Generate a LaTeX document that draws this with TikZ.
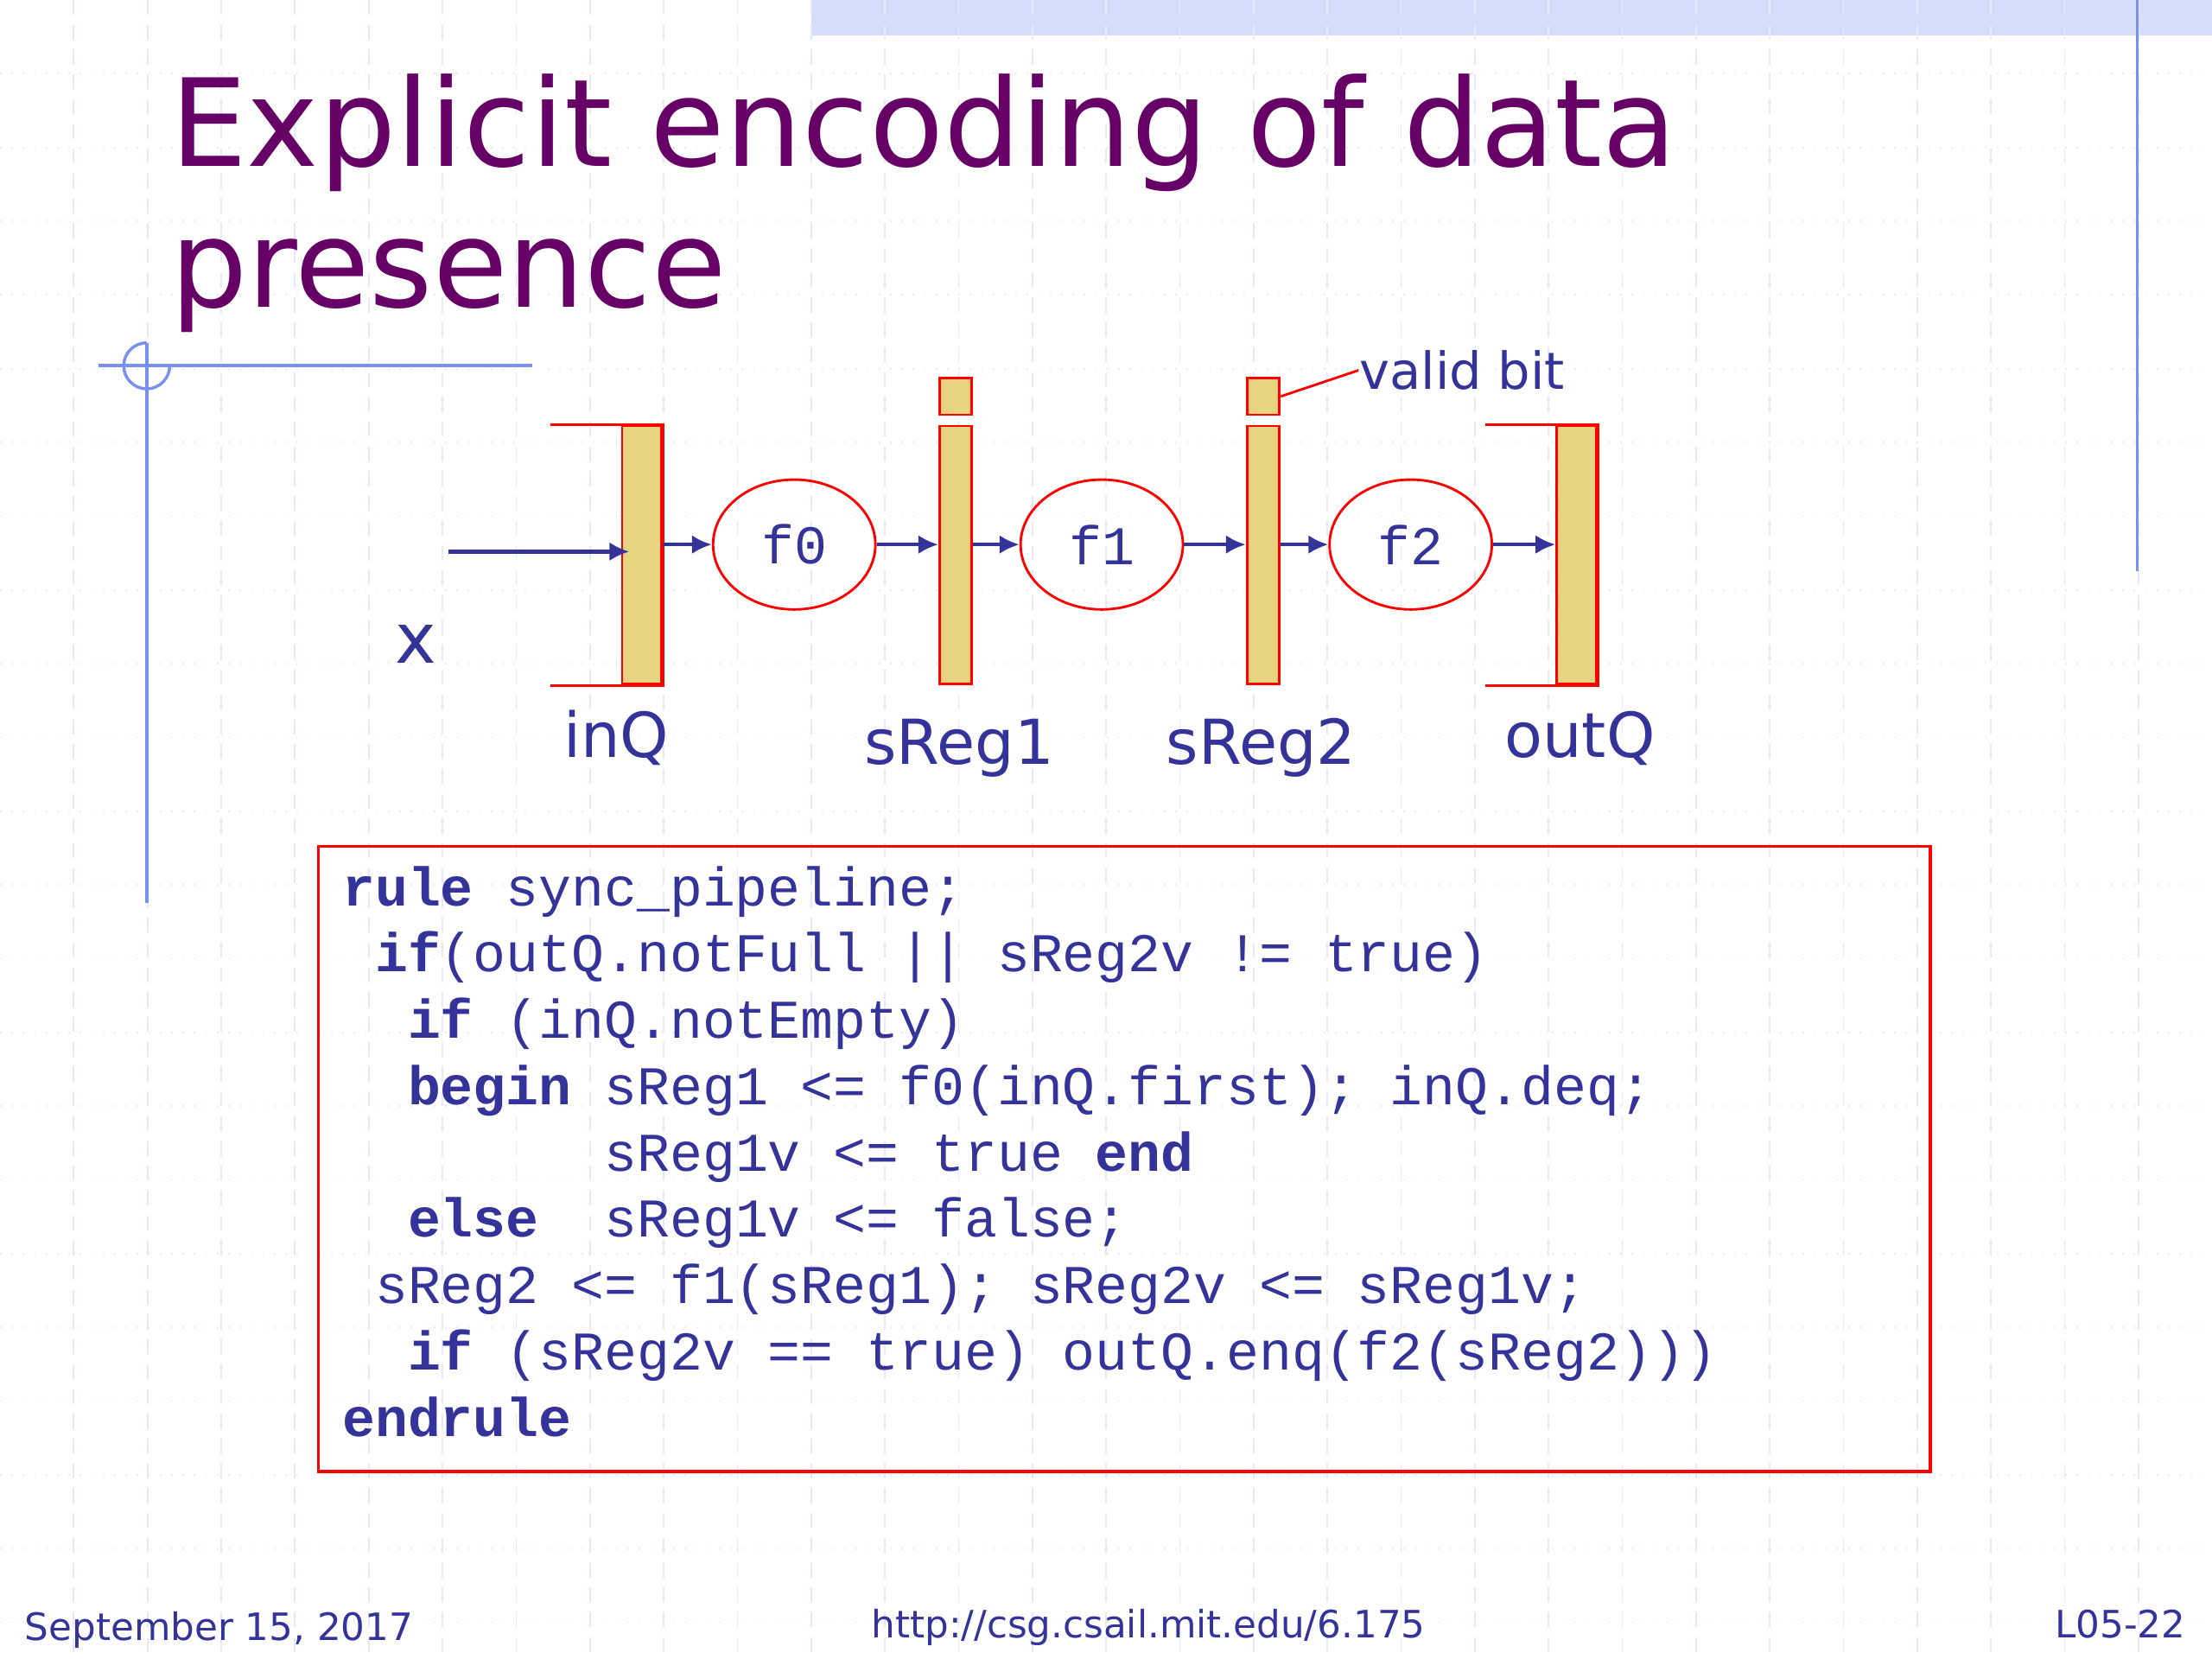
\documentclass[tikz,border=0pt]{standalone}
\usepackage{fontspec}
\setmainfont{DejaVu Sans}
\newfontfamily\codefont{Liberation Mono}
\usetikzlibrary{positioning,arrows.meta,shapes.geometric}

\definecolor{titlepurple}{RGB}{102,0,102}
\definecolor{navy}{RGB}{51,51,153}
\definecolor{regyellow}{RGB}{232,212,128}
\definecolor{decoblue}{RGB}{120,145,240}
\definecolor{gridblue}{RGB}{228,232,250}
\definecolor{gridgray}{RGB}{232,232,238}
\definecolor{bandblue}{RGB}{212,221,250}

\begin{document}
\begin{tikzpicture}[x=0.01cm, y=-0.01cm, >={Latex[length=4pt,width=3.8pt]},
reg/.style={draw=red, fill=regyellow, line width=0.5pt, inner sep=0pt, minimum width=0.23cm, minimum height=1.83cm},
vbit/.style={reg, minimum height=0.26cm},
queue/.style={reg, minimum width=0.28cm},
fnode/.style={ellipse, draw=red, line width=0.5pt, minimum width=1.15cm, minimum height=0.92cm, inner sep=0pt, text=navy, font=\codefont\fontsize{11}{13}\selectfont},
arr/.style={->, draw=navy, line width=0.75pt},
bracket/.style={draw=red, line width=0.6pt},
lbl/.style={text=navy, font=\fontsize{12.5}{15}\selectfont, anchor=base, inner sep=0pt},
titletext/.style={text=titlepurple, font=\fontsize{24.5}{28.5}\selectfont, anchor=base west, inner sep=0pt},
codeline/.style={text=navy, font=\codefont\fontsize{11}{13}\selectfont, anchor=base west, inner sep=0pt},
foot/.style={text=navy, font=\fontsize{7.6}{9}\selectfont, inner sep=0pt}]

    % slide background
    \useasboundingbox (0,0) rectangle (1568,1176);
    \fill[white] (0,0) rectangle (1568,1176);
    \fill[bandblue] (575,0) rectangle (1568,25);
    \foreach \gx in {1,...,29}
      \draw[gridblue, densely dashed, line width=0.3pt] ({52.27*\gx},0) -- ({52.27*\gx},1176);
    \foreach \gy in {1,...,22}
      \draw[gridgray, dotted, line width=0.3pt] (0,{52.27*\gy}) -- (1568,{52.27*\gy});
    \draw[decoblue, line width=0.5pt] (1515,0) -- (1515,405);
    \draw[decoblue, line width=0.6pt] (70,259) -- (377,259);
    \draw[decoblue, line width=0.6pt] (104,243) -- (104,640);
    \draw[decoblue, line width=0.6pt] (104,243) arc[start angle=90, end angle=360, radius=0.163cm];

    % title
    \node[titletext] (title1) at (120,118) {Explicit encoding of data};
    \node[titletext] (title2) at (120,218) {presence};

    % pipeline
    \node[queue] (inQ) at (455,393.5) {};
    \node[reg] (sReg1) at (677.5,393.5) {};
    \node[vbit] (v1) at (677.5,281) {};
    \node[reg] (sReg2) at (895.5,393.5) {};
    \node[vbit] (v2) at (895.5,281) {};
    \node[queue] (outQ) at (1117.5,393.5) {};
    \node[fnode] (f0) at (563,386) {f0};
    \node[fnode] (f1) at (781,386) {f1};
    \node[fnode] (f2) at (1000,386) {f2};

    \draw[bracket] ([xshift=-0.5cm]inQ.north west) -- (inQ.north east) -- (inQ.south east) -- ([xshift=-0.5cm]inQ.south west);
    \draw[bracket] ([xshift=-0.5cm]outQ.north west) -- (outQ.north east) -- (outQ.south east) -- ([xshift=-0.5cm]outQ.south west);

    \coordinate (xin) at (318,391);
    \draw[arr, shorten >=-0.06cm] (xin) -- (xin -| inQ.west);
    \draw[arr] (inQ.east |- f0.west) -- (f0.west);
    \draw[arr] (f0.east) -- (sReg1.west |- f0.east);
    \draw[arr] (sReg1.east |- f1.west) -- (f1.west);
    \draw[arr] (f1.east) -- (sReg2.west |- f1.east);
    \draw[arr] (sReg2.east |- f2.west) -- (f2.west);
    \draw[arr] (f2.east) -- (outQ.west |- f2.east);

    \node[lbl, font=\fontsize{14}{16}\selectfont] (xlbl) at (295,470) {x};
    \node[lbl] (inQlbl) at (437,537) {inQ};
    \node[lbl] (sReg1lbl) at (680,542) {sReg1};
    \node[lbl] (sReg2lbl) at (894,542) {sReg2};
    \node[lbl] (outQlbl) at (1120,537) {outQ};
    \node[lbl, anchor=base west, font=\fontsize{10.3}{12}\selectfont] (validlbl) at (963,276) {valid bit};
    \draw[red, line width=0.5pt] (v2.east) -- (validlbl.west);

    % rule code
    \node[draw=red, line width=0.6pt, minimum width=11.42cm, minimum height=4.43cm, inner sep=0pt] (codebox) at (797,821.5) {};
    \foreach \ln [count=\k] in {
      {\textbf{rule} sync\_pipeline;},
      {~\textbf{if}(outQ.notFull || sReg2v != true)},
      {~~\textbf{if} (inQ.notEmpty)},
      {~~\textbf{begin} sReg1 <= f0(inQ.first); inQ.deq;},
      {~~~~~~~~sReg1v <= true \textbf{end}},
      {~~\textbf{else}~~sReg1v <= false;},
      {~sReg2 <= f1(sReg1); sReg2v <= sReg1v;},
      {~~\textbf{if} (sReg2v == true) outQ.enq(f2(sReg2)))},
      {\textbf{endrule}}}
      \node[codeline] (code\k) at (242,{642+47*(\k-1)}) {\ln};

    % footer
    \node[foot, anchor=base west] (date) at (17,1163) {September 15, 2017};
    \node[foot, anchor=base] (url) at (814,1161) {http://csg.csail.mit.edu/6.175};
    \node[foot, anchor=base east] (slideno) at (1550,1161) {L05-22};
\end{tikzpicture}
\end{document}
